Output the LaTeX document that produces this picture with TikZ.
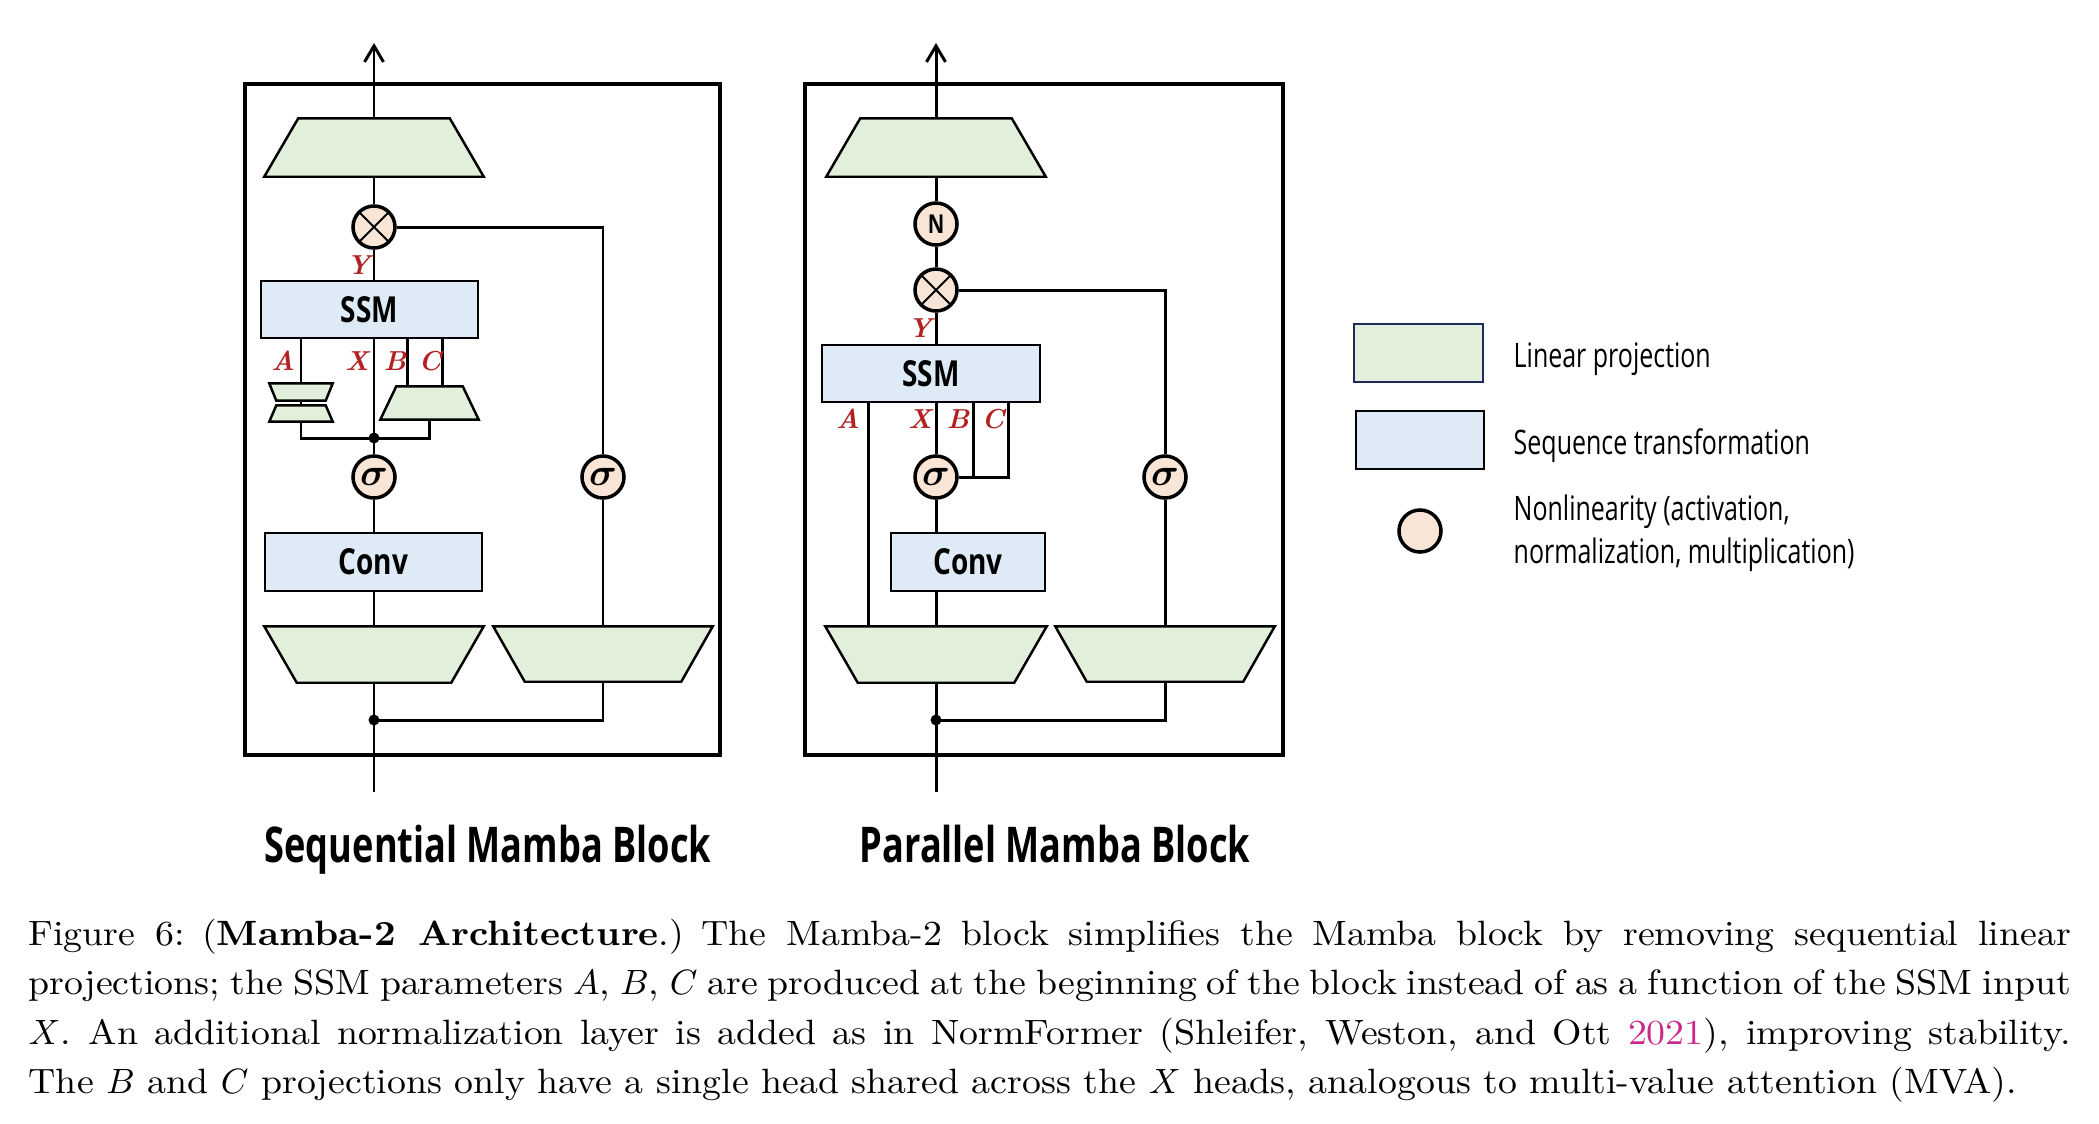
\documentclass[tikz,border=0pt]{standalone}
\usepackage{fontspec}
\usetikzlibrary{arrows.meta,positioning}
\newfontfamily\condsans[FakeStretch=0.74]{Open Sans}
\newfontfamily\condbold[FakeStretch=0.78]{Open Sans}
\newfontfamily\condtitle[FakeStretch=0.735]{Open Sans}
\newfontfamily\captionfont[FakeStretch=1.075]{Latin Modern Roman}
\definecolor{projgreen}{RGB}{226,239,218}
\definecolor{seqblue}{RGB}{222,235,247}
\definecolor{nonlinpeach}{RGB}{248,229,214}
\definecolor{labelred}{RGB}{178,34,34}
\definecolor{citemagenta}{RGB}{204,40,140}
\definecolor{legendnavy}{RGB}{31,42,90}

\begin{document}
\begin{tikzpicture}[x=0.01cm,y=-0.01cm,
wire/.style={line width=0.85pt},
outarrow/.style={wire,-{Straight Barb[length=1.6mm,width=1.9mm,line width=0.85pt]}},
frame/.style={line width=1.35pt},
projline/.style={draw,line width=0.7pt,fill=projgreen,line join=miter},
% narrow side on top
projup/.style={inner sep=0pt,append after command={\pgfextra{\draw[projline]
  ([xshift=#1]\tikzlastnode.north west) -- ([xshift=-#1]\tikzlastnode.north east)
  -- (\tikzlastnode.south east) -- (\tikzlastnode.south west) -- cycle;}}},
% narrow side at the bottom
projdown/.style={inner sep=0pt,append after command={\pgfextra{\draw[projline]
  (\tikzlastnode.north west) -- (\tikzlastnode.north east)
  -- ([xshift=-#1]\tikzlastnode.south east) -- ([xshift=#1]\tikzlastnode.south west) -- cycle;}}},
seqbox/.style={draw,line width=0.7pt,fill=seqblue,inner sep=0pt,font=\condbold\bfseries\fontsize{10.2}{12}\selectfont},
nonlin/.style={circle,draw,line width=1pt,fill=nonlinpeach,minimum size=0.42cm,inner sep=0pt,font=\fontsize{11}{12}\selectfont\boldmath},
mult/.style={path picture={\draw[line width=0.55pt] (path picture bounding box.north west)--(path picture bounding box.south east)
  (path picture bounding box.south west)--(path picture bounding box.north east);}},
lbl/.style={text=labelred,inner sep=0pt,font=\fontsize{7.8}{9}\selectfont\bfseries\itshape},
title/.style={anchor=base,inner sep=0pt,font=\condtitle\bfseries\fontsize{14}{16}\selectfont},
keytext/.style={inner sep=0pt,font=\condsans\fontsize{9.6}{12.2}\selectfont}]
\useasboundingbox (0,0) rectangle (2099,1123);
% sequential block
\draw[frame] (245,84) rectangle (720,755);
\node[projup=0.34cm,minimum width=2.18cm,minimum height=0.57cm] (seq-out) at (374,147.5) {};
\node[nonlin,mult] (seq-mul) at (374,227) {};
\node[seqbox,minimum width=2.17cm,minimum height=0.57cm] (seq-ssm) at (369.5,309.5) {SSM};
\node[projdown=0.07cm,minimum width=0.62cm,minimum height=0.16cm] (seq-a1) at (301,392) {};
\node[projup=0.07cm,minimum width=0.62cm,minimum height=0.15cm] (seq-a2) at (301,413.5) {};
\node[projup=0.16cm,minimum width=0.97cm,minimum height=0.32cm] (seq-bc) at (429.5,403) {};
\node[nonlin] (seq-sx) at (374,477) {$\sigma$};
\node[nonlin] (seq-sz) at (603,477) {$\sigma$};
\node[seqbox,minimum width=2.17cm,minimum height=0.58cm] (seq-conv) at (373.5,562) {Conv};
\node[projdown=0.325cm,minimum width=2.18cm,minimum height=0.55cm] (seq-inx) at (374,654.5) {};
\node[projdown=0.315cm,minimum width=2.18cm,minimum height=0.54cm] (seq-inz) at (603,654) {};
\coordinate (seq-top) at (374,43);
\coordinate (seq-bot) at (374,792);
\coordinate (seq-split) at (374,720);
\coordinate (seq-join) at (374,438);
\draw[wire] (seq-bot) -- (seq-inx.south);
\draw[wire] (seq-split) -| (seq-inz.south);
\fill (seq-split) circle (5.5);
\draw[wire] (seq-inx.north) -- (seq-inx.north |- seq-conv.south);
\draw[wire] (seq-sx |- seq-conv.north) -- (seq-sx);
\draw[wire] (seq-sx) -- (seq-sx |- seq-ssm.south);
\draw[wire] (seq-inz.north) -- (seq-sz);
\draw[wire] (seq-sz) |- (seq-mul);
\draw[wire] (seq-mul) -- (seq-mul |- seq-ssm.north);
\draw[wire] (seq-mul) -- (seq-out.south);
\draw[outarrow] (seq-out.north) -- (seq-top);
% A, B, C inputs
\draw[wire] (seq-a1 |- seq-ssm.south) -- (seq-a1.north);
\draw[wire] (seq-a1.south) -- (seq-a2.north);
\draw[wire] (seq-a2.south) |- (seq-join) -| (seq-bc.south);
\fill (seq-join) circle (5.5);
\foreach \dx in {-0.215,0.125}
  \draw[wire] ([xshift=\dx cm]seq-bc.north) -- ([xshift=\dx cm]seq-bc.north |- seq-ssm.south);
\node[lbl] (seq-y) at (358.5,265) {Y};
\foreach \l/\x in {A/283,X/357,B/395,C/430}
  \node[lbl] (seq-\l) at (\x,361) {\l};
\node[title] (seq-title) at (488,862) {Sequential Mamba Block};
% parallel block
\draw[frame] (805,84) rectangle (1283,755);
\node[projup=0.34cm,minimum width=2.18cm,minimum height=0.57cm] (par-out) at (936,147.5) {};
\node[nonlin,font=\condbold\bfseries\fontsize{7.4}{9}\selectfont] (par-norm) at (936,224) {N};
\node[nonlin,mult] (par-mul) at (936,290) {};
\node[seqbox,minimum width=2.18cm,minimum height=0.57cm] (par-ssm) at (931,373.5) {SSM};
\node[nonlin] (par-sx) at (936,477) {$\sigma$};
\node[nonlin] (par-sz) at (1165,477) {$\sigma$};
\node[seqbox,minimum width=1.54cm,minimum height=0.58cm] (par-conv) at (968,562) {Conv};
\node[projdown=0.325cm,minimum width=2.20cm,minimum height=0.55cm] (par-inx) at (936,654.5) {};
\node[projdown=0.315cm,minimum width=2.18cm,minimum height=0.54cm] (par-inz) at (1165,654) {};
\coordinate (par-top) at (936,43);
\coordinate (par-bot) at (936,792);
\coordinate (par-split) at (936,720);
\draw[wire] (par-bot) -- (par-inx.south);
\draw[wire] (par-split) -| (par-inz.south);
\fill (par-split) circle (5.5);
\draw[wire] (par-inx.north) -- (par-inx.north |- par-conv.south);
\draw[wire] (par-sx |- par-conv.north) -- (par-sx);
\draw[wire] (par-sx) -- (par-sx |- par-ssm.south);
\draw[wire] (par-inz.north) -- (par-sz);
\draw[wire] (par-sz) |- (par-mul);
\draw[wire] (par-mul) -- (par-mul |- par-ssm.north);
\draw[wire] (par-mul) -- (par-norm);
\draw[wire] (par-norm) -- (par-out.south);
\draw[outarrow] (par-out.north) -- (par-top);
% A, B, C inputs
\draw[wire] ([xshift=-0.67cm]par-inx.north) -- ([xshift=-0.67cm]par-inx.north |- par-ssm.south);
\draw[wire] (par-sx.east) -| ([xshift=0.72cm]par-sx.center |- par-ssm.south);
\draw[wire] ([xshift=0.37cm]par-sx.center) -- ([xshift=0.37cm]par-sx.center |- par-ssm.south);
\node[lbl] (par-y) at (920,328) {Y};
\foreach \l/\x in {A/848,X/920,B/958,C/993}
  \node[lbl] (par-\l) at (\x,419) {\l};
\node[title] (par-title) at (1055,862) {Parallel Mamba Block};
% legend
\node[draw=legendnavy,line width=0.75pt,fill=projgreen,minimum width=1.29cm,minimum height=0.58cm,inner sep=0pt] (key-proj) at (1418.5,353) {};
\node[draw,line width=0.75pt,fill=seqblue,minimum width=1.28cm,minimum height=0.58cm,inner sep=0pt] (key-seq) at (1420,440) {};
\node[nonlin] (key-nonlin) at (1420,531) {};
\node[keytext,anchor=base west] (key-proj-txt) at (1513,367) {Linear projection};
\node[keytext,anchor=base west] (key-seq-txt) at (1513,454) {Sequence transformation};
\node[keytext,anchor=west,align=left] (key-nonlin-txt) at (1513,533) {Nonlinearity (activation,\\normalization, multiplication)};
% caption
\node[anchor=north west,inner sep=0pt,text width=20.41cm,align=justify,font=\captionfont\fontsize{10}{14.1}\selectfont] (caption) at (28,918)
{Figure 6:\enspace(\textbf{Mamba-2 Architecture}.)\enspace The Mamba-2 block simplifies the Mamba block by removing sequential linear\linebreak
projections; the SSM parameters $A$, $B$, $C$ are produced at the beginning of the block instead of as a function of the SSM input\linebreak
$X$.\enspace An additional normalization layer is added as in NormFormer (Shleifer, Weston, and Ott \textcolor{citemagenta}{2021}), improving stability.\linebreak
The $B$ and $C$ projections only have a single head shared across the $X$ heads, analogous to multi-value attention (MVA).};
\end{tikzpicture}
\end{document}
